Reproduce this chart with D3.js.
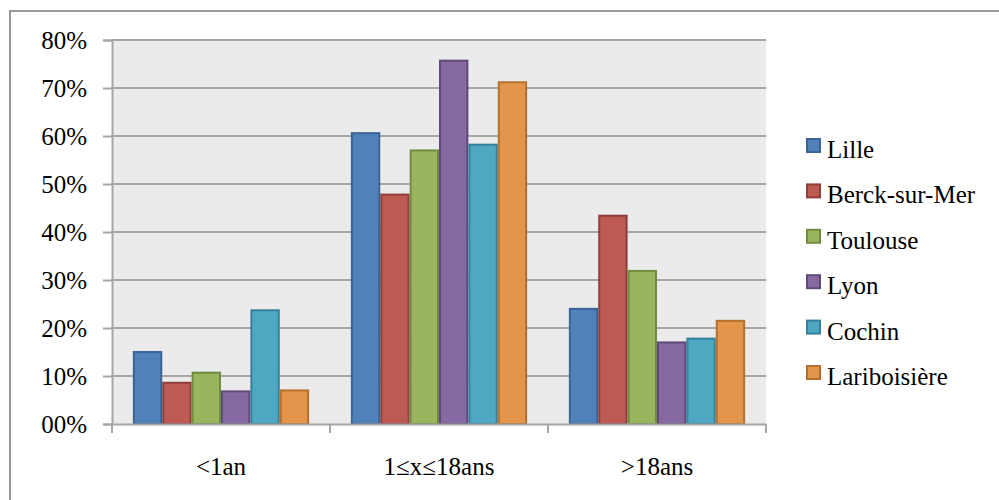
<!DOCTYPE html>
<html>
<head>
<meta charset="utf-8">
<script src="https://cdn.jsdelivr.net/npm/d3@7"></script>
<style>
  html, body { margin: 0; padding: 0; background: #fff; font-family: 'Liberation Serif', serif; }
  svg { display: block; }
</style>
</head>
<body>
<svg id="chart" width="999" height="500"></svg>
<script>
// Age groups on the x axis
const categories = ["<1an", "1\u2264x\u226418ans", ">18ans"];
// Centres
const series = ["Lille", "Berck-sur-Mer", "Toulouse", "Lyon", "Cochin", "Lariboisière"];
// Share of patients per centre, one array per age group (percent)
const under1 = [15.2, 8.8, 10.9, 7.0, 23.9, 7.2];
const from1to18 = [60.8, 48.0, 57.2, 75.9, 58.4, 71.4];
const over18 = [24.2, 43.6, 32.1, 17.2, 18.0, 21.7];
const values = [under1, from1to18, over18];
// Y-axis tick labels
const tickValues = [0, 10, 20, 30, 40, 50, 60, 70, 80];
const tickLabels = ["00%", "10%", "20%", "30%", "40%", "50%", "60%", "70%", "80%"];

const fills = ["#5181BA", "#BD5A54", "#9BB45E", "#8569A0", "#4EA8C2", "#E3964B"];
const strokes = ["#3B6494", "#8E3E3B", "#728C3F", "#5E4A7A", "#35809A", "#B5702E"];

const FONT = "'Liberation Serif', serif";

const svg = d3.select("#chart");
const plot = { left: 112, right: 766, top: 40, bottom: 424 };

// Outer frame of the chart
svg.append("rect")
  .attr("x", 10).attr("y", 11)
  .attr("width", 1000).attr("height", 500)
  .attr("fill", "none").attr("stroke", "#9a9a9a").attr("stroke-width", 2);

const x = d3.scaleBand().domain(categories).range([plot.left, plot.right]).padding(0);
const xi = d3.scaleBand().domain(series).range([0, x.bandwidth()])
  .paddingInner(0).paddingOuter(0.71);
const y = d3.scaleLinear().domain([0, 80]).range([plot.bottom, plot.top]);

// Plot background
svg.append("rect")
  .attr("x", plot.left).attr("y", plot.top)
  .attr("width", plot.right - plot.left).attr("height", plot.bottom - plot.top)
  .attr("fill", "#EBEBEB");

// Horizontal gridlines
svg.append("g").selectAll("line").data(tickValues.slice(1)).join("line")
  .attr("x1", plot.left).attr("x2", plot.right)
  .attr("y1", d => y(d)).attr("y2", d => y(d))
  .attr("stroke", "#A6A6A6").attr("stroke-width", 2);

// Y axis
const yAxis = d3.axisLeft(y).tickValues(tickValues)
  .tickFormat((d, i) => tickLabels[i]).tickSize(9).tickPadding(16);
const gy = svg.append("g").attr("transform", `translate(${plot.left},0)`).call(yAxis);
gy.attr("font-family", null).attr("font-size", null);
gy.select(".domain").attr("stroke", "#A6A6A6").attr("stroke-width", 2);
gy.selectAll(".tick line").attr("stroke", "#A6A6A6").attr("stroke-width", 2);
gy.selectAll(".tick text").attr("fill", "#000")
  .style("font-family", FONT).style("font-size", "25px");

// Bars
const groups = svg.append("g").selectAll("g").data(categories).join("g")
  .attr("transform", d => `translate(${x(d)},0)`);
groups.selectAll("rect")
  .data((c, ci) => series.map((s, si) => ({ s, si, v: values[ci][si] })))
  .join("rect")
  .attr("x", d => xi(d.s) + 1)
  .attr("width", xi.bandwidth() - 2)
  .attr("y", d => y(d.v) + 1)
  .attr("height", d => y(0) - y(d.v) - 1)
  .attr("fill", d => fills[d.si])
  .attr("stroke", d => strokes[d.si])
  .attr("stroke-width", 2);

// X axis
const xAxis = d3.axisBottom(x).tickSize(0).tickPadding(33);
const gx = svg.append("g").attr("transform", `translate(0,${plot.bottom})`).call(xAxis);
gx.attr("font-family", null).attr("font-size", null);
gx.select(".domain").attr("stroke", "#A6A6A6").attr("stroke-width", 2);
gx.selectAll(".tick text").attr("fill", "#000")
  .style("font-family", FONT).style("font-size", "25px");
// Category separators below the axis
const seps = categories.map(c => x(c)).concat([plot.right]);
svg.append("g").selectAll("line").data(seps).join("line")
  .attr("x1", d => d).attr("x2", d => d)
  .attr("y1", plot.bottom).attr("y2", plot.bottom + 9)
  .attr("stroke", "#A6A6A6").attr("stroke-width", 2);

// Legend
const legend = svg.append("g").attr("transform", "translate(806,146)");
const item = legend.selectAll("g").data(series).join("g")
  .attr("transform", (d, i) => `translate(0,${i * 45.4})`);
item.append("rect")
  .attr("x", 1).attr("y", -7).attr("width", 13).attr("height", 13)
  .attr("fill", (d, i) => fills[i]).attr("stroke", (d, i) => strokes[i]).attr("stroke-width", 2);
item.append("text")
  .attr("x", 21).attr("y", 12)
  .style("font-family", FONT).style("font-size", "25px")
  .text(d => d);
</script>
</body>
</html>
